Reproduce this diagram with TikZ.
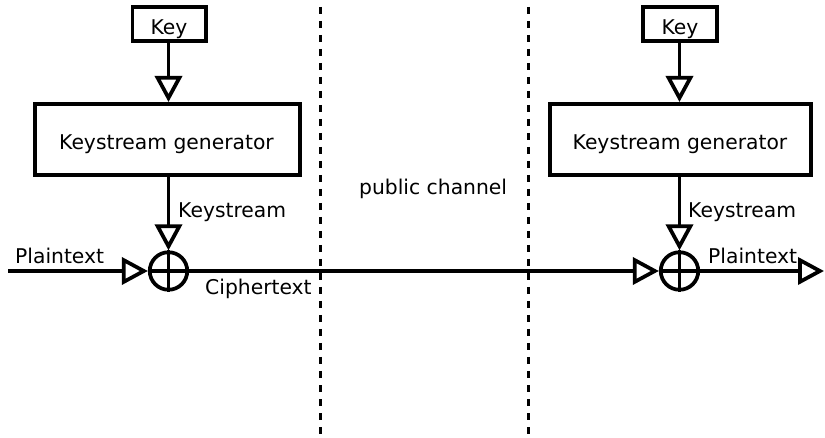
\documentclass[tikz,border=0pt]{standalone}
\usepackage{fontspec}
\setmainfont{DejaVu Sans}
\usetikzlibrary{arrows.meta}
\begin{document}
\begin{tikzpicture}[x=1pt,y=-1pt,
  box/.style={draw, line width=3.75pt, inner sep=0pt},
  lbl/.style={font=\fontsize{20.3}{24}\selectfont, inner sep=0pt},
  wire/.style={line width=3.75pt},
  flow/.style={wire, -{Triangle[open, length=26pt, width=27pt, fill=white]}},
  xorgate/.style={draw, circle, line width=3.75pt, minimum size=37.5pt, inner sep=0pt},
  divider/.style={line width=3.75pt, dash pattern=on 7pt off 7pt, dash phase=7pt}]
\useasboundingbox (0,0) rectangle (825,438);

% channel boundaries
\coordinate (d1t) at (320.5,0);
\coordinate (d1b) at (320.5,438);
\coordinate (d2t) at (528.5,0);
\coordinate (d2b) at (528.5,438);
\draw[divider] (d1t) -- (d1b);
\draw[divider] (d2t) -- (d2b);

% sender
\node[box, minimum width=73.25pt, minimum height=34.25pt] (key1) at (169,24) {};
\node[lbl, anchor=base] (key1t) at (169,35) {Key};
\node[box, minimum width=265.25pt, minimum height=71.25pt] (gen1) at (167.5,139.5) {};
\node[lbl, anchor=base] (gen1t) at (166.5,150) {Keystream generator};
\node[xorgate] (xor1) at (168.5,271) {};

% receiver
\node[box, minimum width=74.25pt, minimum height=34.25pt] (key2) at (680,24) {};
\node[lbl, anchor=base] (key2t) at (680,35) {Key};
\node[box, minimum width=261.25pt, minimum height=71.25pt] (gen2) at (680.5,139.5) {};
\node[lbl, anchor=base] (gen2t) at (680,150) {Keystream generator};
\node[xorgate] (xor2) at (679.5,271) {};

% XOR crosses
\draw[wire] (xor1.north) -- (xor1.south);
\draw[wire] (xor1.west) -- (xor1.east);
\draw[wire] (xor2.north) -- (xor2.south);
\draw[wire] (xor2.west) -- (xor2.east);

% key and keystream feeds
\draw[flow] (key1.south -| xor1) -- (xor1 |- gen1.north);
\draw[flow] (gen1.south -| xor1) -- (xor1.north);
\draw[flow] (key2.south -| xor2) -- (xor2 |- gen2.north);
\draw[flow] (gen2.south -| xor2) -- (xor2.north);

% data path
\coordinate (in) at (8,271);
\coordinate (out) at (824,271);
\draw[flow] (in) -- (xor1.west);
\draw[flow] (xor1.east) -- (xor2.west);
\draw[flow] (xor2.east) -- (out);

% labels
\node[lbl, anchor=base west] (ks1) at (178,218) {Keystream};
\node[lbl, anchor=base west] (pt1) at (15,263.5) {Plaintext};
\node[lbl, anchor=base west] (ct) at (205,295) {Ciphertext};
\node[lbl, anchor=base west] (pub) at (359,195) {public channel};
\node[lbl, anchor=base west] (ks2) at (688,218) {Keystream};
\node[lbl, anchor=base west] (pt2) at (708,263.5) {Plaintext};
\end{tikzpicture}
\end{document}
